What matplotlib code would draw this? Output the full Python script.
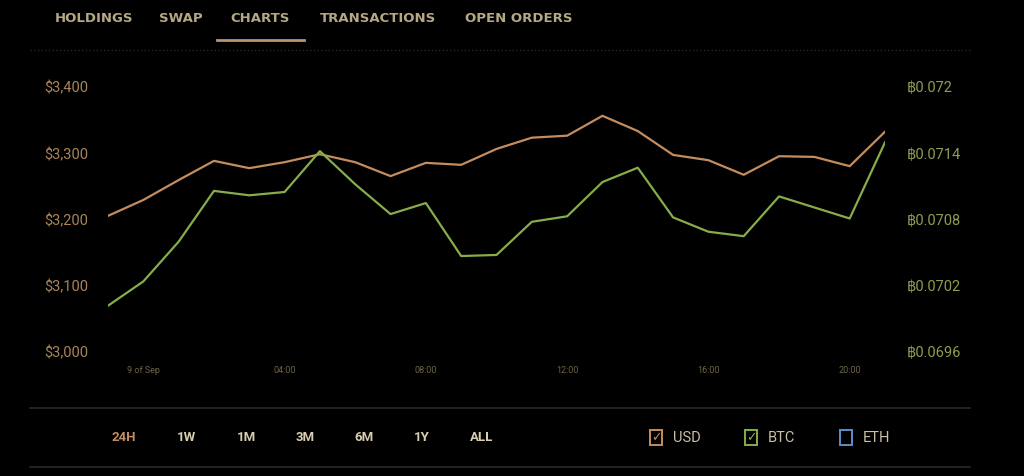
import matplotlib
matplotlib.use("Agg")
import matplotlib.pyplot as plt
from matplotlib.patches import Rectangle
from matplotlib.lines import Line2D

plt.rcParams['font.family'] = ['Roboto', 'DejaVu Sans']

# hourly samples, hour offset from 00:00 on 9 Sep
hours = list(range(-1, 22))
usd = [3204, 3228, 3258, 3287, 3276, 3285, 3297, 3285, 3264, 3284, 3281, 3305,
       3322, 3325, 3355, 3332, 3296, 3288, 3266, 3294, 3293, 3279, 3331]
btc = [0.07001, 0.07023, 0.07059, 0.07105, 0.07101, 0.07104, 0.07141, 0.07111,
       0.07084, 0.07094, 0.07046, 0.07047, 0.07077, 0.07082, 0.07113, 0.07126,
       0.07081, 0.07068, 0.07064, 0.07100, 0.07090, 0.07080, 0.07149]

usd_ticks = [3000, 3100, 3200, 3300, 3400]
btc_ticks = [0.0696, 0.0702, 0.0708, 0.0714, 0.072]
x_ticks = [0, 4, 8, 12, 16, 20]
x_labels = ['9 of Sep', '04:00', '08:00', '12:00', '16:00', '20:00']

tabs = ['HOLDINGS', 'SWAP', 'CHARTS', 'TRANSACTIONS', 'OPEN ORDERS']
tab_x = [94, 181, 260, 378, 519]
ranges = ['24H', '1W', '1M', '3M', '6M', '1Y', 'ALL']
range_x = [124, 186, 246, 305, 364, 422, 482]
legend_names = ['USD', 'BTC', 'ETH']
legend_x = [656, 751, 846]

c_usd = '#c48d60'
c_btc = '#86ad4a'
c_eth = '#5b8fc7'

W, H = 1024, 477
fig = plt.figure(figsize=(W / 100, H / 100), dpi=100, facecolor='black')

def px(x0, y0, x1, y1):
    return [x0 / W, 1 - y1 / H, (x1 - x0) / W, (y1 - y0) / H]

ax = fig.add_axes(px(108, 87, 885, 352))
ax.set_facecolor('black')
ax.plot(hours, usd, color=c_usd, lw=1.6)
ax.set_xlim(-1, 21)
ax.set_ylim(3000, 3400)
ax.set_yticks(usd_ticks)
ax.set_yticklabels(['${:,}'.format(v) for v in usd_ticks], color='#a98457', fontsize=10.5)
ax.set_xticks(x_ticks)
ax.set_xticklabels(x_labels, color='#6e6444', fontsize=6.5)
ax.tick_params(axis='y', length=0, pad=14)
ax.tick_params(axis='x', length=0, pad=10)
for s in ax.spines.values():
    s.set_visible(False)

ax2 = ax.twinx()
ax2.plot(hours, btc, color=c_btc, lw=1.6)
ax2.set_ylim(0.0696, 0.072)
ax2.set_yticks(btc_ticks)
ax2.set_yticklabels(['\u0e3f{:g}'.format(v) for v in btc_ticks], color='#8e9d52', fontsize=10.5)
ax2.tick_params(axis='y', length=0, pad=16)
for s in ax2.spines.values():
    s.set_visible(False)

# top navigation
for t, x in zip(tabs, tab_x):
    fig.text(x / W, 1 - 18 / H, t, color='#b5a885', fontsize=9.5, fontweight='bold',
             ha='center', va='center', family=['DejaVu Sans'])
fig.add_artist(Line2D([217 / W, 304 / W], [1 - 41 / H] * 2, color='#b89470', lw=2))
fig.add_artist(Line2D([30 / W, 970 / W], [1 - 51 / H] * 2, color='#2a2822', lw=1, ls=':'))

# bottom controls
fig.add_artist(Line2D([30 / W, 970 / W], [1 - 409 / H] * 2, color='#2a2822', lw=1.2))
fig.add_artist(Line2D([30 / W, 970 / W], [1 - 468 / H] * 2, color='#2a2822', lw=1.2))
for i, (t, x) in enumerate(zip(ranges, range_x)):
    fig.text(x / W, 1 - 438 / H, t, color='#c48d60' if i == 0 else '#d9cfb0',
             fontsize=9.5, fontweight='bold', ha='center', va='center', family=['Roboto'])
for name, x, c, checked in zip(legend_names, legend_x, [c_usd, c_btc, c_eth], [True, True, False]):
    fig.add_artist(Rectangle(((x - 6) / W, 1 - 446 / H), 12 / W, 15 / H,
                             fill=False, edgecolor=c, lw=1.4))
    if checked:
        fig.text(x / W, 1 - 438 / H, '\u2713', color=c, fontsize=9, ha='center',
                 va='center', family=['DejaVu Sans'], fontweight='bold')
    fig.text((x + 17) / W, 1 - 438 / H, name, color='#c9c0a5', fontsize=10.5,
             ha='left', va='center')

fig.savefig('out.png', dpi=100, facecolor='black')
